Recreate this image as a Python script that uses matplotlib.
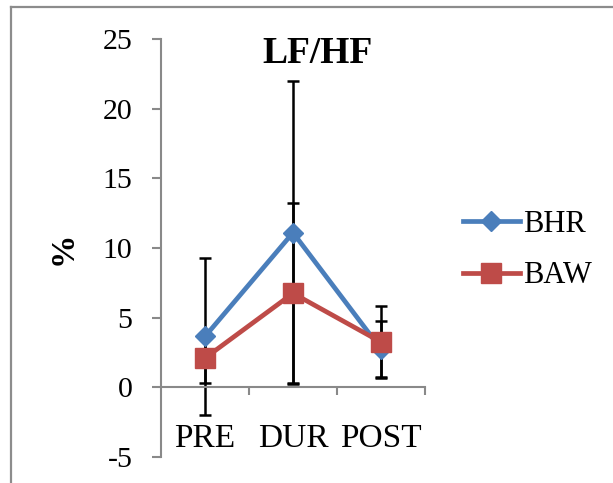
import matplotlib
matplotlib.use("Agg")
import matplotlib.pyplot as plt
from matplotlib.lines import Line2D

# Data
phases = ["PRE", "DUR", "POST"]
bhr_mean = [3.65, 11.1, 2.75]
bhr_err = [5.65, 10.85, 1.98]
baw_mean = [2.1, 6.75, 3.25]
baw_err = [1.8, 6.45, 2.58]
y_ticks = [-5, 0, 5, 10, 15, 20, 25]

blue = "#4A7EBB"
red = "#BE4B48"
axis_gray = "#898989"
serif = ["Liberation Serif", "DejaVu Serif"]

plt.rcParams["font.family"] = serif

W, H = 613, 483
fig = plt.figure(figsize=(W / 100, H / 100), dpi=100)
ax = fig.add_axes([161 / W, (H - 457) / H, 264 / W, 418 / H])

x = list(range(len(phases)))

# error bars (drawn beneath the series lines)
ax.errorbar(x, bhr_mean, yerr=bhr_err, fmt="none", ecolor="black",
            elinewidth=1.8, capsize=4.3, capthick=1.8, zorder=2)
ax.errorbar(x, baw_mean, yerr=baw_err, fmt="none", ecolor="black",
            elinewidth=1.8, capsize=4.3, capthick=1.8, zorder=2)

ax.plot(x, bhr_mean, color=blue, lw=3.4, marker="D", ms=10.5,
        label="BHR", zorder=3)
ax.plot(x, baw_mean, color=red, lw=3.4, marker="s", ms=14.5,
        label="BAW", zorder=4)

ax.set_xlim(-0.5, len(phases) - 0.5)
ax.set_ylim(min(y_ticks), max(y_ticks))
ax.set_yticks(y_ticks)
ax.set_yticklabels([str(v) for v in y_ticks], fontsize=21.5)

# category axis sits on y = 0
ax.spines["bottom"].set_position(("data", 0))
for side in ("top", "right"):
    ax.spines[side].set_visible(False)
for side in ("left", "bottom"):
    ax.spines[side].set_color(axis_gray)
    ax.spines[side].set_linewidth(1.5)

ax.set_xticks(x)
ax.set_xticklabels(phases, fontsize=24)
ax.set_xticks([i + 0.5 for i in x], minor=True)
ax.tick_params(axis="x", which="major", length=0, pad=26)
ax.tick_params(axis="x", which="minor", length=6, width=1.5,
               color=axis_gray, direction="out")
ax.tick_params(axis="y", length=6.5, width=1.5, color=axis_gray,
               direction="out", pad=14)

ax.set_ylabel("%", fontsize=24, fontweight="bold", va="center")
ax.yaxis.set_label_coords(-0.371, 0.5)

ax.set_title("LF/HF", fontsize=27, fontweight="bold", x=0.591,
             y=0.9426, pad=0)

ax.legend(loc="center left", bbox_to_anchor=(463 / W, 1 - 250 / H),
          bbox_transform=fig.transFigure, frameon=False, fontsize=22,
          handlelength=1.85, handletextpad=0.12, labelspacing=0.75,
          borderpad=0, borderaxespad=0)

# outer chart-area border (left and top edges visible)
fig.add_artist(Line2D([11 / W, 11 / W], [0, 1 - 7 / H],
                      transform=fig.transFigure, color="#8C8C8C", lw=1.6))
fig.add_artist(Line2D([11 / W, 1], [1 - 7 / H, 1 - 7 / H],
                      transform=fig.transFigure, color="#8C8C8C", lw=1.6))

fig.savefig("out.png", dpi=100)
